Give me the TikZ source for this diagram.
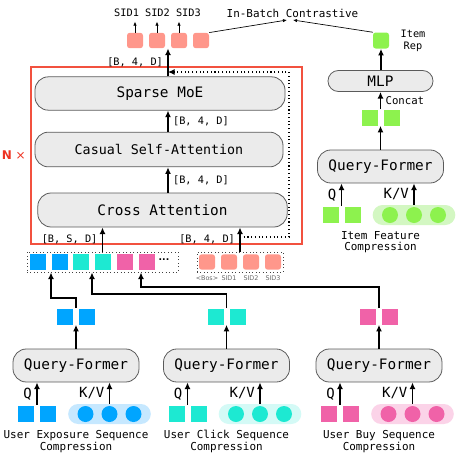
\documentclass[tikz,border=0pt]{standalone}
\usepackage{fontspec}
\setmonofont{DejaVu Sans Mono}
\setsansfont{DejaVu Sans}
\usetikzlibrary{arrows.meta,calc}

\definecolor{boxgray}{HTML}{EBEBEB}
\definecolor{boxline}{HTML}{5A5A5A}
\definecolor{framered}{HTML}{F2513F}
\definecolor{nred}{HTML}{EE3322}
\definecolor{sidsalmon}{HTML}{FF978B}
\definecolor{seqblue}{HTML}{00A5FF}
\definecolor{seqbluel}{HTML}{C6E8FF}
\definecolor{seqteal}{HTML}{1DE9D2}
\definecolor{seqteall}{HTML}{D4FAF6}
\definecolor{seqpink}{HTML}{F062A8}
\definecolor{seqpinkl}{HTML}{FBD3E8}
\definecolor{seqgreen}{HTML}{8DF24E}
\definecolor{seqgreenl}{HTML}{D3F7C2}

\begin{document}
\begin{tikzpicture}[x=0.75pt, y=-0.75pt,
    block/.style={draw=boxline, fill=boxgray, rounded corners=10pt, line width=0.6pt,
                  font=\ttfamily\fontsize{10.8}{13}\selectfont},
    tok/.style={fill=#1, minimum width=12pt, minimum height=12pt, inner sep=0pt},
    sid/.style={fill=sidsalmon, rounded corners=2pt, minimum width=12pt, minimum height=11.5pt, inner sep=0pt},
    kv/.style={fill=#1, rounded corners=7.5pt, minimum width=62pt, minimum height=15pt, inner sep=0pt},
    ball/.style={circle, fill=#1, minimum size=12pt, inner sep=0pt},
    rowbox/.style={draw=black!75, dotted, line width=0.6pt, minimum height=15pt},
    flow/.style={-{Latex[length=5pt,width=4.5pt]}, line width=1pt},
    pointer/.style={-{Latex[length=3pt,width=2.5pt]}, line width=0.5pt},
    loopback/.style={-{Latex[length=5pt,width=4.5pt]}, dotted, line width=0.8pt},
    lbl/.style={font=\ttfamily\fontsize{7.7}{9}\selectfont},
    qkv/.style={font=\ttfamily\fontsize{10.5}{12}\selectfont},
    seqcap/.style={align=center, font=\ttfamily\fontsize{8.2}{8.4}\selectfont},
    bos/.style={font=\sffamily\fontsize{4.8}{5.5}\selectfont, text=black!60, inner sep=1pt, yshift=-3pt}]

  \useasboundingbox (0,0) rectangle (458,458);

  % decoder stack
  \node[draw=framered, line width=0.8pt, minimum width=203.25pt, minimum height=132.75pt] (blk) at (166.5,155.5) {};
  \node[left, text=nred, font=\sffamily\fontsize{9}{10}\selectfont] at (blk.west) {\textbf{N} ×};

  \node[block, minimum width=187.5pt, minimum height=25pt] (moe) at (160,93.5) {Sparse MoE};
  \node[block, minimum width=186pt, minimum height=26pt, font=\ttfamily\fontsize{10}{12}\selectfont] (csa) at (159,149.5) {Casual Self-Attention};
  \node[block, minimum width=187pt, minimum height=25.5pt] (cross) at (162.5,210) {Cross Attention};

  % semantic ids on top
  \node[sid] (out1) at (135,40.5) {};
  \node[sid] (out2) at (157,40.5) {};
  \node[sid] (out3) at (179,40.5) {};
  \node[sid] (out4) at (201,40.5) {};
  \coordinate (omid) at ($(out2.south)!.5!(out3.south)$);
  \node[lbl] (sids) at (157.5,13) {SID1 SID2 SID3};
  \draw[pointer] (out1.north) -- (out1.north |- sids.south);
  \draw[pointer] (out2.north) -- (out2.north |- sids.south);
  \draw[pointer] (out3.north) -- (out3.north |- sids.south);

  \draw[flow] (moe.north -| omid) -- node[left, lbl]{[B, 4, D]} (omid);
  \draw[flow] (csa.north -| omid) -- node[right, lbl]{[B, 4, D]} (moe.south -| omid);
  \draw[flow] (cross.north -| omid) -- node[right, lbl]{[B, 4, D]} (csa.south -| omid);

  % input rows
  \node[rowbox, minimum width=113.25pt] (tokrow) at (102.5,262) {};
  \node[tok=seqblue] (t1) at (38,262) {};
  \node[tok=seqblue] (t2) at (60,262) {};
  \node[tok=seqteal] (t3) at (81,262) {};
  \node[tok=seqteal] (t4) at (103,262) {};
  \node[tok=seqpink] (t5) at (125,262) {};
  \node[tok=seqpink] (t6) at (147,262) {};
  \node[font=\sffamily\bfseries\fontsize{7}{8}\selectfont, inner sep=0pt] (tdots) at (164,260) {...};

  \node[rowbox, minimum width=64.5pt] (sidrow) at (240,262) {};
  \node[sid, label={[bos]below:{<Bos>}}] (s0) at (207,262) {};
  \node[sid, label={[bos]below:SID1}] (s1) at (229,262) {};
  \node[sid, label={[bos]below:SID2}] (s2) at (251,262) {};
  \node[sid, label={[bos]below:SID3}] (s3) at (273,262) {};

  \draw[flow] (tokrow.north) -- node[left, lbl]{[B, S, D]} (tokrow.north |- cross.south);
  \draw[flow] (sidrow.north) -- node[left, lbl]{[B, 4, D]} (sidrow.north |- cross.south);
  \coordinate (fb1) at (289,237);
  \coordinate (fb2) at (289,72);
  \draw[loopback] (sidrow.north |- fb1) -- (fb1) -- (fb2) -- (fb2 -| omid);

  % query-formers
  \foreach \nm/\col/\lt/\dx/\dy/\lab in {b/seqblue/seqbluel/0/0/User Exposure Sequence,
      c/seqteal/seqteall/150.5/0/User Click Sequence,
      p/seqpink/seqpinkl/303/0/User Buy Sequence,
      i/seqgreen/seqgreenl/304.5/-199/Item Feature} {
    \node[block, minimum width=94.5pt, minimum height=24.75pt] (qf\nm) at (76+\dx,365.5+\dy) {Query-Former};
    \node[tok=\col] (q\nm1) at (26+\dx,413.5+\dy) {};
    \node[tok=\col] (q\nm2) at (48+\dx,413.5+\dy) {};
    \node[kv=\lt] (kv\nm) at (109.5+\dx,414+\dy) {};
    \node[ball=\col] at (85.5+\dx,414+\dy) {};
    \node[ball=\col] at (109.5+\dx,414+\dy) {};
    \node[ball=\col] at (133.5+\dx,414+\dy) {};
    \node[tok=\col] (o\nm1) at (65+\dx,316.5+\dy) {};
    \node[tok=\col] (o\nm2) at (87+\dx,316.5+\dy) {};
    \node[seqcap] at (76+\dx,441.5+\dy) {\lab\\Compression};
    \coordinate (qm\nm) at ($(q\nm1.north)!.5!(q\nm2.north)$);
    \draw[flow] (qm\nm) -- node[left, qkv]{Q} (qm\nm |- qf\nm.south);
    \draw[flow] (kv\nm.north) -- node[left, qkv]{K/V} (kv\nm.north |- qf\nm.south);
    \draw[flow] (qf\nm.north) -- (qf\nm.north |- o\nm1.south);
  }

  % sequences into the token row
  \coordinate (bturn) at (51,298);
  \coordinate (cturn) at (92,294);
  \coordinate (pturn) at (141,287);
  \draw[flow] (qfb.north |- ob1.north) |- (bturn) -- (bturn |- tokrow.south);
  \draw[flow] (qfc.north |- oc1.north) |- (cturn) -- (cturn |- tokrow.south);
  \draw[flow] (qfp.north |- op1.north) |- (pturn) -- (pturn |- tokrow.south);

  % item tower
  \node[block, minimum width=78.75pt, minimum height=15.75pt, rounded corners=7.8pt] (mlp) at (380.5,81) {MLP};
  \draw[flow] (qfi.north |- oi1.north) -- node[right, lbl, font=\ttfamily\fontsize{8}{9}\selectfont]{Concat} (qfi.north |- mlp.south);
  \node[tok=seqgreen, rounded corners=2pt] (irep) at (381,40.5) {};
  \node[right=5pt, align=center, lbl] at (irep.east) {Item\\Rep};
  \draw[flow] (mlp.north -| irep) -- (irep.south);

  % contrastive loss
  \node[font=\ttfamily\fontsize{8.2}{9}\selectfont] (ibc) at (292.5,13) {In-Batch Contrastive};
  \coordinate (ibl) at (287,20);
  \coordinate (ibr) at (293,20);
  \draw[pointer] (out4.north east) -- (ibl);
  \draw[pointer] (irep.north west) -- (ibr);

\end{tikzpicture}
\end{document}
